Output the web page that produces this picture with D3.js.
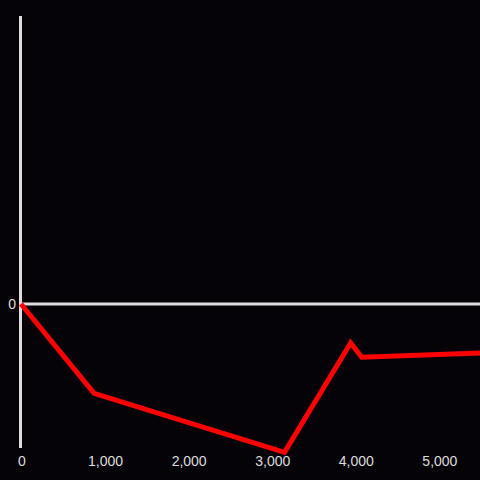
<!DOCTYPE html>
<html>
<head>
<meta charset="utf-8">
<script src="https://cdn.jsdelivr.net/npm/d3@7"></script>
<style>
  body { margin: 0; background: #050307; }
  text { font-family: "Liberation Sans", Arial, sans-serif; }
</style>
</head>
<body>
<div class="chart"></div>
<script>
var svgWidth = 480;
var svgHeight = 480;

// data
var xValues = [0, 875, 3153, 3945, 4077, 5492];
var yValues = [0, -0.62, -1.03, -0.27, -0.37, -0.34];
var xTicks = [0, 1000, 2000, 3000, 4000, 5000];
var yTicks = [0];

var svg = d3.select(".chart")
  .append("svg")
  .attr("width", svgWidth)
  .attr("height", svgHeight)
  .style("display", "block")
  .style("background", "#050307");

var x = d3.scaleLinear().domain([0, 5492]).range([21, 480]);
var y = d3.scaleLinear().domain([-1, 2]).range([448, 16]);

// zero line
svg.append("line")
  .attr("x1", x(0)).attr("x2", 480)
  .attr("y1", y(0)).attr("y2", y(0))
  .attr("stroke", "#dddddd")
  .attr("stroke-width", 3);

// y axis line
svg.append("line")
  .attr("x1", 20.5).attr("x2", 20.5)
  .attr("y1", y(2)).attr("y2", y(-1))
  .attr("stroke", "#dddddd")
  .attr("stroke-width", 3);

// x tick labels
svg.selectAll(".xlab")
  .data(xTicks)
  .enter().append("text")
  .attr("class", "xlab")
  .attr("x", d => x(d) + 1)
  .attr("y", 466)
  .attr("text-anchor", "middle")
  .attr("fill", "#dddddd")
  .style("font-size", "14px")
  .text(d => d3.format(",")(d));

// y tick labels
svg.selectAll(".ylab")
  .data(yTicks)
  .enter().append("text")
  .attr("class", "ylab")
  .attr("x", 16)
  .attr("y", d => y(d))
  .attr("dy", "0.35em")
  .attr("text-anchor", "end")
  .attr("fill", "#dddddd")
  .style("font-size", "14px")
  .text(d => d);

var line = d3.line()
  .x((d, i) => x(xValues[i]))
  .y(d => y(d));

svg.append("path")
  .datum(yValues)
  .attr("d", line)
  .attr("fill", "none")
  .attr("stroke", "#ff0000")
  .attr("stroke-width", 5)
  .attr("stroke-linejoin", "miter");
</script>
</body>
</html>
